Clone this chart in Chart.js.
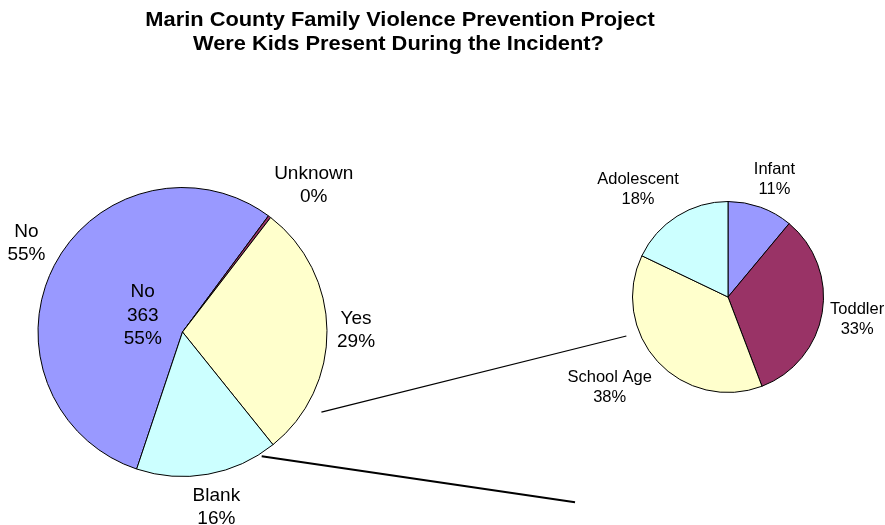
<!DOCTYPE html>
<html>
<head>
<meta charset="utf-8">
<script src="https://cdn.jsdelivr.net/npm/chart.js@4.4.0/dist/chart.umd.min.js"></script>
<style>
  html, body { margin: 0; padding: 0; background: #fff; }
  #wrap { position: relative; width: 885px; height: 525px; }
  #wrap canvas { position: absolute; left: 0; top: 0; }
</style>
</head>
<body>
<div id="wrap">
  <canvas id="mainPie" width="885" height="525"></canvas>
  <canvas id="kidsPie" width="885" height="525"></canvas>
</div>
<script>
// Were kids present (main pie)
const presentLabels = ['No', 'Unknown', 'Yes', 'Blank'];
const presentCounts = [363, 2, 190, 105];
const presentColors = ['#9999FF', '#993366', '#FFFFCC', '#CCFFFF'];

// Age breakdown of the "Yes" slice (secondary pie)
const ageLabels = ['Infant', 'Toddler', 'School Age', 'Adolescent'];
const ageCounts = [21, 63, 72, 34];
const ageColors = ['#9999FF', '#993366', '#FFFFCC', '#CCFFFF'];

const titleLines = ['Marin County Family Violence Prevention Project', 'Were Kids Present During the Incident?'];

const FONT = 'Arial, "Liberation Sans", sans-serif';

function clamp(v) { return Math.max(-1, Math.min(1, v)); }

// draws "label / pct%" next to each slice, pushed out from the rim
function sliceLabels(id, fontSize, lineH, gap) {
    return {
        id: id,
        afterDraw(chart) {
            const ctx = chart.ctx;
            const arcs = chart.getDatasetMeta(0).data;
            const values = chart.data.datasets[0].data;
            const total = values.reduce((a, b) => a + b, 0);
            ctx.save();
            ctx.font = fontSize + 'px ' + FONT;
            ctx.fillStyle = '#000';
            ctx.textAlign = 'center';
            ctx.textBaseline = 'middle';
            arcs.forEach((arc, i) => {
                const p = arc.getProps(['x', 'y', 'startAngle', 'endAngle', 'outerRadius']);
                const mid = (p.startAngle + p.endAngle) / 2;
                const lines = [chart.data.labels[i], Math.round(values[i] / total * 100) + '%'];
                const w = Math.max(...lines.map(t => ctx.measureText(t).width));
                const h = lineH * lines.length;
                const ax = p.x + Math.cos(mid) * (p.outerRadius + gap);
                const ay = p.y + Math.sin(mid) * (p.outerRadius + gap);
                const cx = ax + clamp(Math.cos(mid) * 1.6) * w / 2;
                const cy = ay + clamp(Math.sin(mid) * 1.6) * h / 2;
                lines.forEach((t, k) => ctx.fillText(t, cx, cy - h / 2 + lineH * (k + 0.5)));
            });
            ctx.restore();
        }
    };
}

// inner label with count for the first slice
const innerLabel = {
    id: 'innerLabel',
    afterDraw(chart) {
        const ctx = chart.ctx;
        const arc = chart.getDatasetMeta(0).data[0];
        const values = chart.data.datasets[0].data;
        const total = values.reduce((a, b) => a + b, 0);
        const p = arc.getProps(['x', 'y', 'startAngle', 'endAngle', 'outerRadius']);
        const mid = (p.startAngle + p.endAngle) / 2;
        const cx = p.x + Math.cos(mid) * p.outerRadius * 0.31;
        const cy = p.y + Math.sin(mid) * p.outerRadius * 0.31 + 4;
        const lines = [chart.data.labels[0], String(values[0]), Math.round(values[0] / total * 100) + '%'];
        ctx.save();
        ctx.font = '19px ' + FONT;
        ctx.fillStyle = '#000';
        ctx.textAlign = 'center';
        ctx.textBaseline = 'middle';
        lines.forEach((t, k) => ctx.fillText(t, cx, cy + (k - 1) * 23.5));
        ctx.restore();
    }
};

// Excel stretched the title a little wider than the font's own width
const titlePlugin = {
    id: 'titleText',
    afterDraw(chart) {
        const ctx = chart.ctx;
        ctx.save();
        ctx.font = 'bold 21px ' + FONT;
        ctx.fillStyle = '#000';
        ctx.textAlign = 'center';
        ctx.textBaseline = 'middle';
        ctx.translate(400, 0);
        ctx.scale(1.04, 1);
        ctx.fillText(titleLines[0], 0, 20.5);
        ctx.fillText(titleLines[1], -1.5, 44.5);
        ctx.restore();
    }
};

const mainChart = new Chart(document.getElementById('mainPie').getContext('2d'), {
    type: 'pie',
    data: {
        labels: presentLabels,
        datasets: [{
            data: presentCounts,
            backgroundColor: presentColors,
            borderColor: '#000',
            borderWidth: 1
        }]
    },
    options: {
        responsive: false,
        animation: false,
        rotation: 198.5,
        layout: { padding: { left: 37, top: 187, right: 557, bottom: 48 } },
        plugins: { legend: { display: false }, tooltip: { enabled: false } }
    },
    plugins: [titlePlugin, sliceLabels('mainLabels', 19, 23, 10), innerLabel]
});

// point on a pie at a clock angle (deg from top) and radius factor
function piePoint(chart, deg, f) {
    const arc = chart.getDatasetMeta(0).data[0];
    const p = arc.getProps(['x', 'y', 'outerRadius']);
    const a = (deg - 90) * Math.PI / 180;
    return [p.x + Math.cos(a) * p.outerRadius * f, p.y + Math.sin(a) * p.outerRadius * f];
}

const connectors = {
    id: 'connectors',
    afterDraw(chart) {
        const ctx = chart.ctx;
        const a1 = piePoint(mainChart, 120, 1.11), b1 = piePoint(chart, 249, 1.14);
        const a2 = piePoint(mainChart, 147.5, 1.02), b2 = piePoint(chart, 216.7, 2.68);
        ctx.save();
        ctx.strokeStyle = '#000';
        ctx.lineWidth = 1.2;
        ctx.beginPath(); ctx.moveTo(a1[0], a1[1]); ctx.lineTo(b1[0], b1[1]); ctx.stroke();
        ctx.lineWidth = 2;
        ctx.beginPath(); ctx.moveTo(a2[0], a2[1]); ctx.lineTo(b2[0], b2[1]); ctx.stroke();
        ctx.restore();
    }
};

const kidsChart = new Chart(document.getElementById('kidsPie').getContext('2d'), {
    type: 'pie',
    data: {
        labels: ageLabels,
        datasets: [{
            data: ageCounts,
            backgroundColor: ageColors,
            borderColor: '#000',
            borderWidth: 1
        }]
    },
    options: {
        responsive: false,
        animation: false,
        rotation: 0,
        layout: { padding: { left: 632, top: 201, right: 61, bottom: 132 } },
        plugins: { legend: { display: false }, tooltip: { enabled: false } }
    },
    plugins: [sliceLabels('ageLabels', 16.5, 20, 8), connectors]
});
</script>
</body>
</html>
